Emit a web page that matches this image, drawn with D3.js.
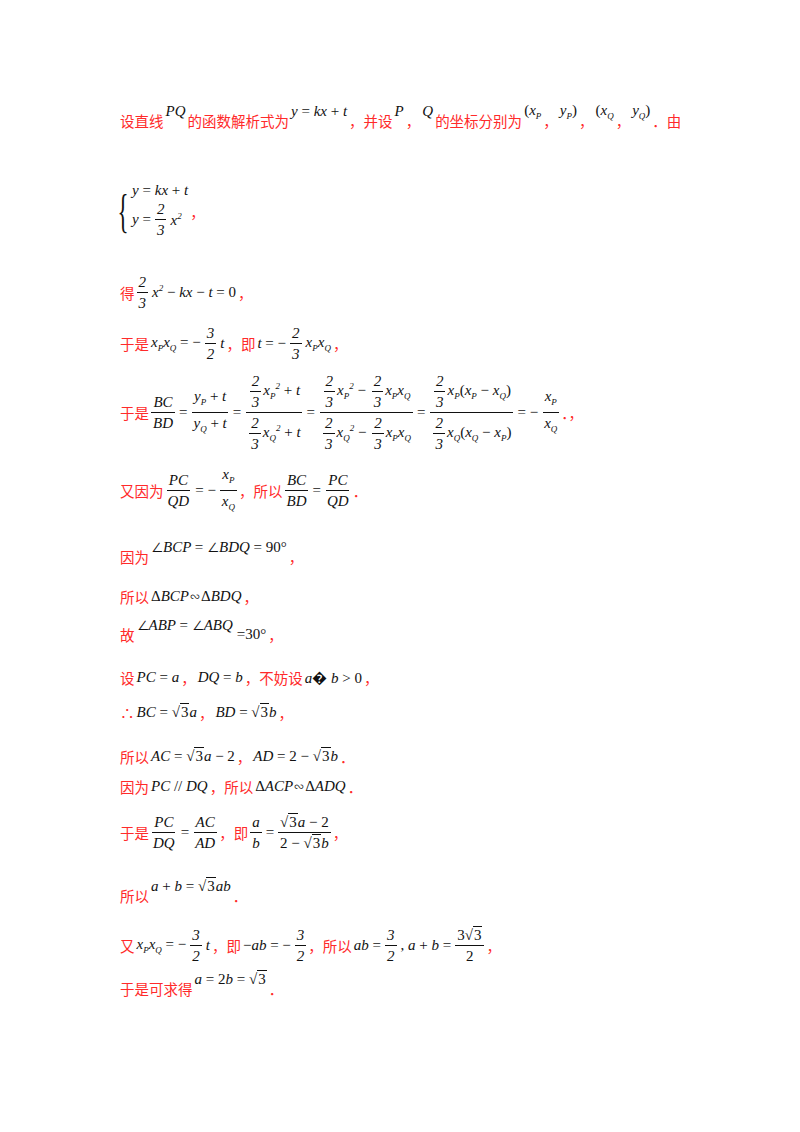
<!DOCTYPE html>
<html lang="zh">
<head>
<meta charset="UTF-8">
<script src="https://d3js.org/d3.v7.min.js"></script>
<style>
  body { margin: 0; background: #fff; width: 800px; height: 1132px; position: relative; overflow: hidden; }
  .line { position: absolute; left: 120px; white-space: nowrap; display: flex; align-items: center; }
  .c { color: #ff2a2a; font-family: "Noto Sans CJK SC", sans-serif; font-size: 14.5px; }
  .m { font-family: "Liberation Serif", serif; font-style: italic; font-size: 15px; color: #111; margin: 0 2px; }
  .u { font-style: normal; }
  .ov { font-style: normal; border-top: 1px solid #111; padding: 0 1px; }
  sub { font-size: 9px; }
  sup { font-size: 9px; }
  .up { position: relative; top: -9px; }
  .f { display: inline-flex; flex-direction: column; align-items: center; vertical-align: middle; margin: 0 2px; font-family: "Liberation Serif", serif; font-style: italic; font-size: 15px; color: #111; }
  .f > span { padding: 0 2px; line-height: 20px; display: block; text-align: center; }
  .f > span:first-child { border-bottom: 1px solid #111; }
</style>
</head>
<body>
<script>
// each line: [kind, content...]   c = 中文, m = math, M = raised math, f = fraction
const f23 = ["f", "2", "3"];
const s23 = "<span class='f'><span>2</span><span>3</span></span>";
const r3 = "<span class=u>√</span><span class=ov>3</span>";
const lines = [
  [["c","设直线"],["M","PQ"],["c","的函数解析式为"],["M","y <span class=u>=</span> kx <span class=u>+</span> t"],["c","，并设"],["M","P"],["c","，"],["M","Q"],["c","的坐标分别为"],["M","<span class=u>(</span>x<sub>P</sub>"],["c","，"],["M","y<sub>P</sub><span class=u>)</span>"],["c","，"],["M","<span class=u>(</span>x<sub>Q</sub>"],["c","，"],["M","y<sub>Q</sub><span class=u>)</span>"],["c","．由"]],
  [["sys"],["c","，"]],
  [["c","得"],f23,["m","x<sup>2</sup> <span class=u>−</span> kx <span class=u>−</span> t <span class=u>= 0</span>"],["c","，"]],
  [["c","于是"],["m","x<sub>P</sub>x<sub>Q</sub> <span class=u>= −</span>"],["f","3","2"],["m","t"],["c","，即"],["m","t <span class=u>= −</span>"],f23,["m","x<sub>P</sub>x<sub>Q</sub>"],["c","，"]],
  [["c","于是"],["f","BC","BD"],["m","<span class=u>=</span>"],["f","y<sub>P</sub> <span class=u>+</span> t","y<sub>Q</sub> <span class=u>+</span> t"],["m","<span class=u>=</span>"],
    ["f",s23+"x<sub>P</sub><sup>2</sup> <span class=u>+</span> t",s23+"x<sub>Q</sub><sup>2</sup> <span class=u>+</span> t"],["m","<span class=u>=</span>"],
    ["f",s23+"x<sub>P</sub><sup>2</sup> <span class=u>−</span> "+s23+"x<sub>P</sub>x<sub>Q</sub>",s23+"x<sub>Q</sub><sup>2</sup> <span class=u>−</span> "+s23+"x<sub>P</sub>x<sub>Q</sub>"],["m","<span class=u>=</span>"],
    ["f",s23+"x<sub>P</sub><span class=u>(</span>x<sub>P</sub> <span class=u>−</span> x<sub>Q</sub><span class=u>)</span>",s23+"x<sub>Q</sub><span class=u>(</span>x<sub>Q</sub> <span class=u>−</span> x<sub>P</sub><span class=u>)</span>"],["m","<span class=u>= −</span>"],["f","x<sub>P</sub>","x<sub>Q</sub>"],["c","．，"]],
  [["c","又因为"],["f","PC","QD"],["m","<span class=u>= −</span>"],["f","x<sub>P</sub>","x<sub>Q</sub>"],["c","，所以"],["f","BC","BD"],["m","<span class=u>=</span>"],["f","PC","QD"],["c","．"]],
  [["c","因为"],["M","<span class=u>∠</span>BCP <span class=u>= ∠</span>BDQ <span class=u>= 90°</span>"],["c","，"]],
  [["c","所以"],["m","<span class=u>Δ</span>BCP<span class=u>∽Δ</span>BDQ"],["c","，"]],
  [["c","故"],["M","<span class=u>∠</span>ABP <span class=u>= ∠</span>ABQ"],["m","<span class=u>=30°</span>"],["c","，"]],
  [["c","设"],["m","PC <span class=u>=</span> a"],["c","，"],["m","DQ <span class=u>=</span> b"],["c","，不妨设"],["m","a<span class=u>�</span> b <span class=u>&gt; 0</span>"],["c","，"]],
  [["c","∴"],["m","BC <span class=u>=</span> "+r3+"a"],["c","，"],["m","BD <span class=u>=</span> "+r3+"b"],["c","，"]],
  [["c","所以"],["m","AC <span class=u>=</span> "+r3+"a <span class=u>− 2</span>"],["c","，"],["m","AD <span class=u>= 2 −</span> "+r3+"b"],["c","．"]],
  [["c","因为"],["m","PC <span class=u>//</span> DQ"],["c","，所以"],["m","<span class=u>Δ</span>ACP<span class=u>∽Δ</span>ADQ"],["c","．"]],
  [["c","于是"],["f","PC","DQ"],["m","<span class=u>=</span>"],["f","AC","AD"],["c","，即"],["f","a","b"],["m","<span class=u>=</span>"],["f",r3+"a <span class=u>− 2</span>","<span class=u>2 −</span> "+r3+"b"],["c","，"]],
  [["c","所以"],["M","a <span class=u>+</span> b <span class=u>=</span> "+r3+"ab"],["c","．"]],
  [["c","又"],["m","x<sub>P</sub>x<sub>Q</sub> <span class=u>= −</span>"],["f","3","2"],["m","t"],["c","，即"],["m","<span class=u>−</span>ab <span class=u>= −</span>"],["f","3","2"],["c","，所以"],["m","ab <span class=u>=</span>"],["f","3","2"],["m","<span class=u>,</span> a <span class=u>+</span> b <span class=u>=</span>"],["f","<span class=u>3</span>"+r3,"<span class=u>2</span>"],["c","，"]],
  [["c","于是可求得"],["M","a <span class=u>= 2</span>b <span class=u>=</span> "+r3],["c","．"]]
];
const lineY = [120, 211, 292, 343, 412, 490, 556, 596, 634, 677, 712, 756, 786, 832, 895, 945, 988];

function part(sel, p) {
  const [k, a, b] = p;
  if (k === "c") sel.append("span").attr("class", "c").text(a);
  else if (k === "m") sel.append("span").attr("class", "m").html(a);
  else if (k === "M") sel.append("span").attr("class", "m up").html(a);
  else if (k === "f") {
    const fr = sel.append("span").attr("class", "f");
    fr.append("span").html(a);
    fr.append("span").html(b);
  } else if (k === "sys") {
    const s = sel.append("span").style("display", "inline-flex").style("align-items", "center");
    s.append("span").attr("class", "m").style("font-size", "46px").style("font-style", "normal")
      .style("transform", "scaleX(0.5)").style("margin", "0 -4px 0 -8px").text("{");
    const col = s.append("span").style("display", "inline-flex").style("flex-direction", "column");
    col.append("span").attr("class", "m").html("y <span class=u>=</span> kx <span class=u>+</span> t");
    const r2 = col.append("span").style("display", "flex").style("align-items", "center");
    r2.append("span").attr("class", "m").html("y <span class=u>=</span>");
    part(r2, f23);
    r2.append("span").attr("class", "m").html("x<sup>2</sup>");
  }
}

const body = d3.select("body");
lines.forEach((ln, i) => {
  const row = body.append("div").attr("class", "line").style("top", (lineY[i] - 40) + "px").style("height", "80px");
  ln.forEach(p => part(row, p));
});
</script>
</body>
</html>
